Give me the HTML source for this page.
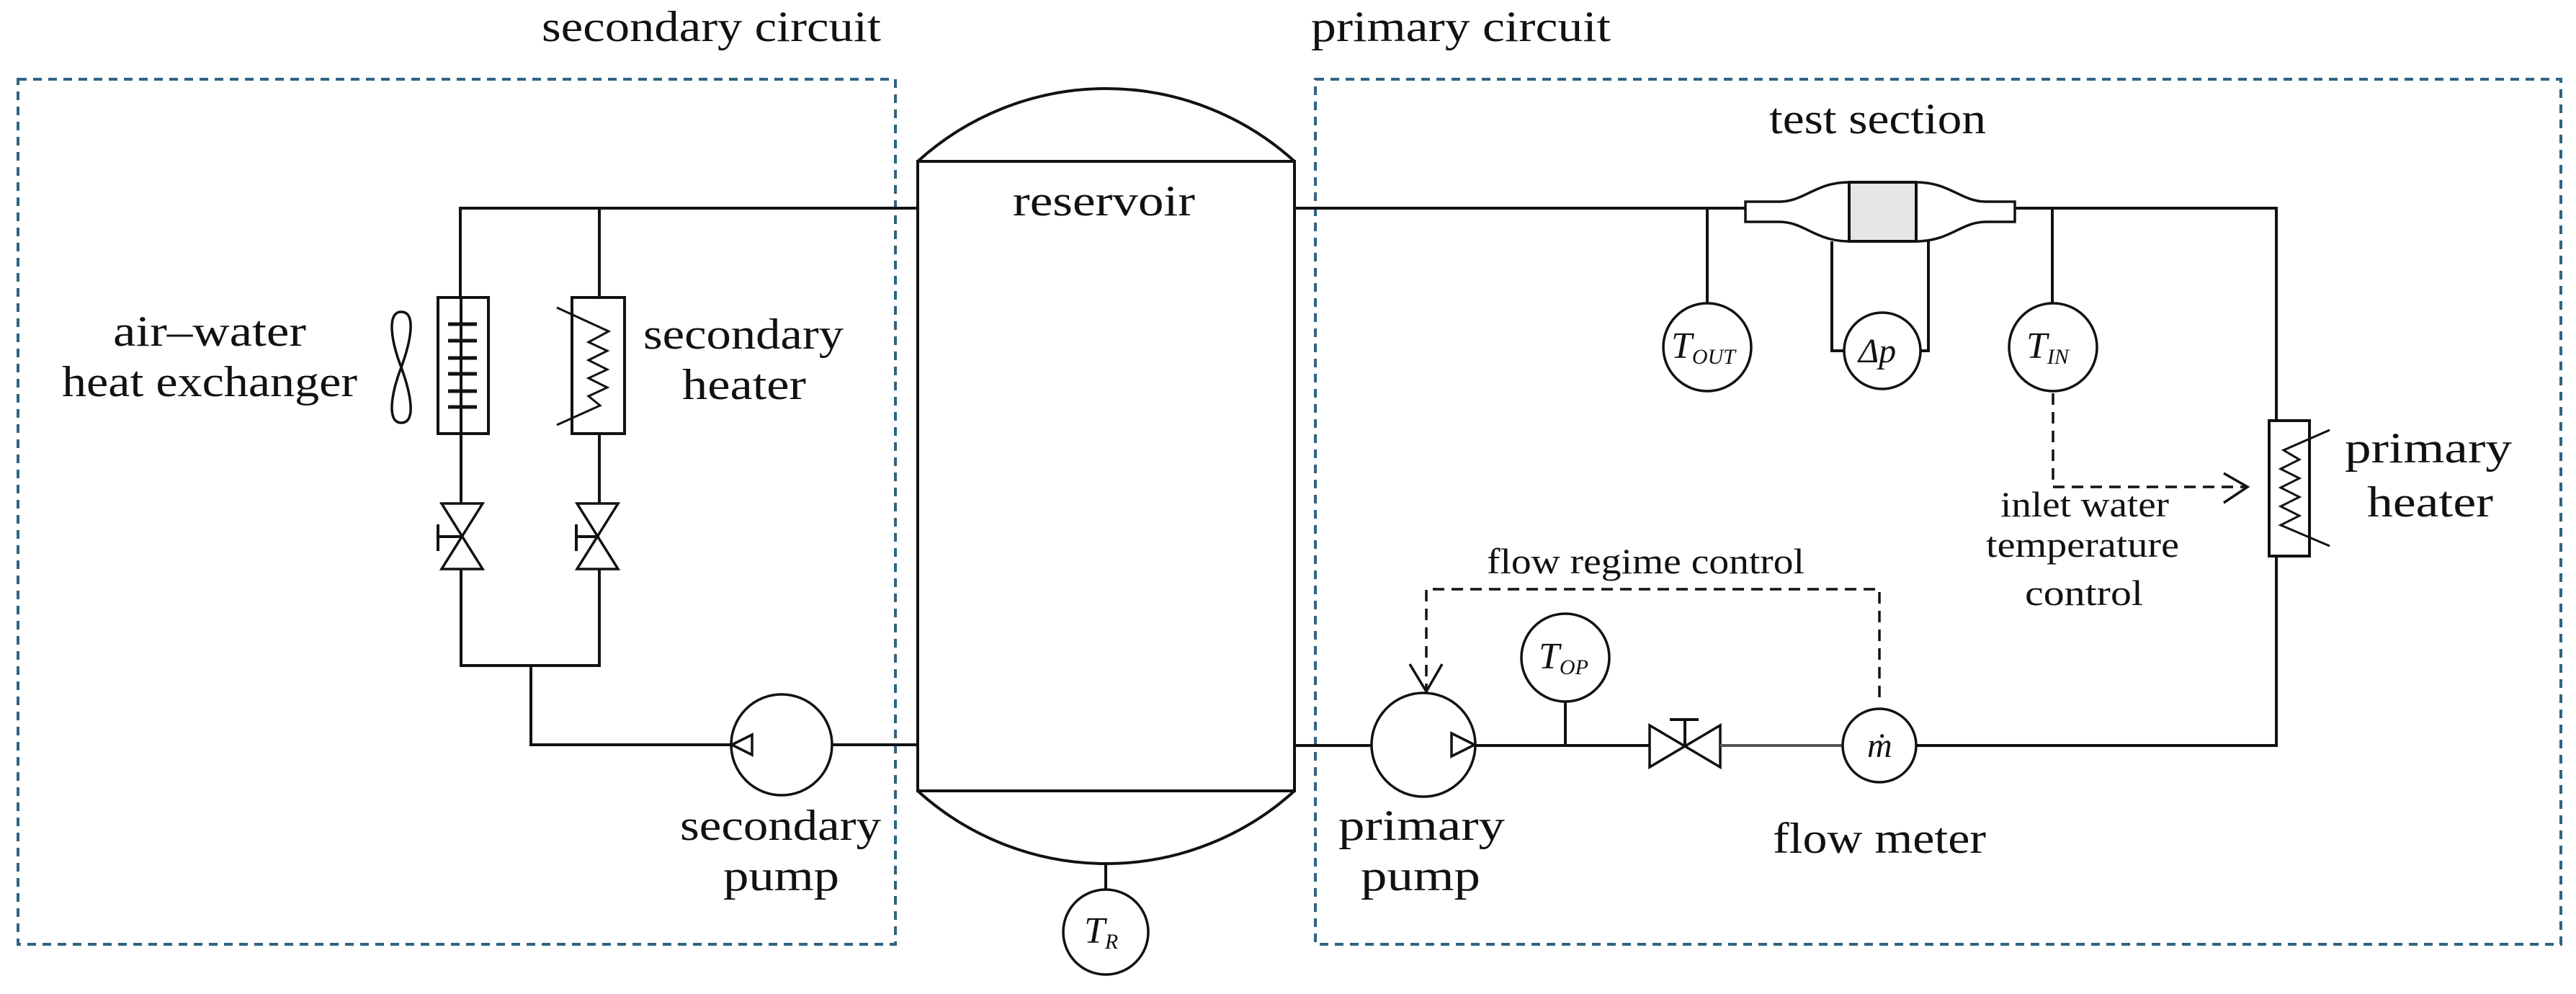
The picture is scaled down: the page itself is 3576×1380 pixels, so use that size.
<!DOCTYPE html>
<html><head><meta charset="utf-8"><style>
html,body{margin:0;padding:0;background:#fff;}
svg{display:block;}
text{font-family:"Liberation Serif",serif;fill:#111;}
</style></head><body>
<svg width="3576" height="1380" viewBox="0 0 3576 1380" xmlns="http://www.w3.org/2000/svg">
<!-- dashed boxes -->
<g fill="none" stroke="#2f6482" stroke-width="4" stroke-dasharray="12 9">
<rect x="25" y="110" width="1218" height="1201"/>
<rect x="1826" y="110" width="1729" height="1201"/>
</g>
<g fill="none" stroke="#111" stroke-width="4" stroke-linejoin="miter">
<!-- reservoir -->
<rect x="1274" y="224" width="523" height="874"/>
<path d="M1274 224 A389 389 0 0 1 1797 224"/>
<path d="M1274 1098 A389 389 0 0 0 1797 1098"/>
<line x1="1535" y1="1201" x2="1535" y2="1235"/>
<circle cx="1535" cy="1294" r="59" stroke-width="3.5"/>
<!-- secondary circuit pipes -->
<polyline points="1274,289 639,289 639,413"/>
<line x1="832" y1="289" x2="832" y2="413"/>
<rect x="608" y="413" width="70" height="189"/>
<rect x="794" y="413" width="73" height="189"/>
<line x1="640" y1="413" x2="640" y2="602"/>
<g stroke-width="5">
<line x1="622" y1="450" x2="662" y2="450"/><line x1="622" y1="473" x2="662" y2="473"/>
<line x1="622" y1="497" x2="662" y2="497"/><line x1="622" y1="519" x2="662" y2="519"/>
<line x1="622" y1="543" x2="662" y2="543"/><line x1="622" y1="565" x2="662" y2="565"/>
</g>
<path d="M557 510 C545 480,535 433,557 433 C580 433,568 480,557 510 C545 540,535 587,557 587 C580 587,568 540,557 510Z" stroke-width="3.5"/>
<!-- secondary heater zigzag -->
<polyline stroke-width="3" points="773,427 845,460 817,475 843,487 817,500 843,513 817,525 843,538 817,550 833,563 773,590"/>
<line x1="640" y1="602" x2="640" y2="699"/>
<line x1="832" y1="602" x2="832" y2="699"/>
<path d="M613 699 L670 699 L613 790 L670 790 Z" stroke-width="3.5"/>
<path d="M801 699 L858 699 L801 790 L858 790 Z" stroke-width="3.5"/>
<line x1="608" y1="745" x2="640" y2="745"/><line x1="608" y1="728" x2="608" y2="765"/>
<line x1="800" y1="745" x2="832" y2="745"/><line x1="800" y1="728" x2="800" y2="765"/>
<polyline points="640,790 640,924 832,924 832,790"/>
<polyline points="737,924 737,1034 1015,1034"/>
<circle cx="1085" cy="1034" r="70" stroke-width="3.5"/>
<path d="M1016 1034 L1044 1020 L1044 1048 Z" stroke-width="3.5"/>
<line x1="1155" y1="1034" x2="1274" y2="1034"/>
<!-- primary circuit top -->
<line x1="1797" y1="289" x2="2423" y2="289"/>
<path d="M2423 280 L2470 280 C2505 280,2520 253,2567 253 L2660 253 C2707 253,2722 280,2757 280 L2797 280 L2797 308 L2757 308 C2722 308,2707 335,2660 335 L2567 335 C2520 335,2505 308,2470 308 L2423 308 Z" stroke-width="3.5"/>
<rect x="2567" y="253" width="93" height="82" fill="#e6e6e6"/>
<polyline points="2797,289 3160,289 3160,584"/>
<line x1="2370" y1="289" x2="2370" y2="421"/>
<circle cx="2370" cy="482" r="61" stroke-width="3.5"/>
<polyline points="2543,335 2543,487 2560,487"/>
<polyline points="2677,335 2677,487 2666,487"/>
<circle cx="2613" cy="487" r="53" stroke-width="3.5"/>
<line x1="2849" y1="289" x2="2849" y2="421"/>
<circle cx="2850" cy="482" r="61" stroke-width="3.5"/>
<!-- primary heater -->
<rect x="3150" y="584" width="56" height="188"/>
<polyline stroke-width="3" points="3234,597 3170,625 3192,638 3166,651 3192,664 3166,677 3192,690 3166,703 3192,716 3166,729 3234,758"/>
<polyline points="3160,772 3160,1035 2660,1035"/>
<!-- bottom primary -->
<line x1="1797" y1="1035" x2="1904" y2="1035"/>
<circle cx="1976" cy="1034" r="72" stroke-width="3.5"/>
<path d="M2047 1034 L2015 1018 L2015 1050 Z" stroke-width="3.5"/>
<line x1="2048" y1="1035" x2="2290" y2="1035"/>
<line x1="2173" y1="975" x2="2173" y2="1035"/>
<circle cx="2173" cy="913" r="61" stroke-width="3.5"/>
<path d="M2290 1007 L2388 1065 L2388 1007 L2290 1065 Z" stroke-width="3.5"/>
<line x1="2339" y1="999" x2="2339" y2="1035"/><line x1="2318" y1="999" x2="2358" y2="999"/>
<line x1="2388" y1="1035" x2="2558" y2="1035" stroke="#555"/>
<circle cx="2609" cy="1035" r="51" stroke-width="3.5"/>
</g>
<!-- dashed control lines -->
<g fill="none" stroke="#111" stroke-width="3.5" stroke-dasharray="16 10">
<polyline points="2609,968 2609,818 1980,818 1980,958"/>
<polyline points="2850,546 2850,676 3118,676"/>
</g>
<g fill="none" stroke="#111" stroke-width="3.5">
<polyline points="1957,922 1980,960 2002,922"/>
<polyline points="3087,657 3120,676 3087,698"/>
</g>
<!-- labels -->
<g font-size="60">
<text x="752" y="57" textLength="471" lengthAdjust="spacingAndGlyphs">secondary circuit</text>
<text x="1820" y="57" textLength="416" lengthAdjust="spacingAndGlyphs">primary circuit</text>
<text x="1406" y="299" textLength="253" lengthAdjust="spacingAndGlyphs">reservoir</text>
<text x="157" y="480" textLength="268" lengthAdjust="spacingAndGlyphs">air–water</text>
<text x="86" y="550" textLength="410" lengthAdjust="spacingAndGlyphs">heat exchanger</text>
<text x="893" y="484" textLength="278" lengthAdjust="spacingAndGlyphs">secondary</text>
<text x="947" y="554" textLength="172" lengthAdjust="spacingAndGlyphs">heater</text>
<text x="944" y="1166" textLength="279" lengthAdjust="spacingAndGlyphs">secondary</text>
<text x="1004" y="1236" textLength="161" lengthAdjust="spacingAndGlyphs">pump</text>
<text x="2456" y="185" textLength="301" lengthAdjust="spacingAndGlyphs">test section</text>
<text x="3255" y="642" textLength="232" lengthAdjust="spacingAndGlyphs">primary</text>
<text x="3286" y="717" textLength="175" lengthAdjust="spacingAndGlyphs">heater</text>
<text x="1858" y="1166" textLength="231" lengthAdjust="spacingAndGlyphs">primary</text>
<text x="1889" y="1236" textLength="166" lengthAdjust="spacingAndGlyphs">pump</text>
<text x="2461" y="1184" textLength="296" lengthAdjust="spacingAndGlyphs">flow meter</text>
</g>
<g font-size="50">
<text x="2777" y="717" textLength="234" lengthAdjust="spacingAndGlyphs">inlet water</text>
<text x="2757" y="773" textLength="268" lengthAdjust="spacingAndGlyphs">temperature</text>
<text x="2811" y="840" textLength="164" lengthAdjust="spacingAndGlyphs">control</text>
<text x="2064" y="796" textLength="441" lengthAdjust="spacingAndGlyphs">flow regime control</text>
</g>
<g font-style="italic">
<text x="2320" y="497" font-size="52">T<tspan font-size="30" dy="8">OUT</tspan></text>
<text x="2813" y="497" font-size="52">T<tspan font-size="30" dy="8">IN</tspan></text>
<text x="2136" y="928" font-size="52">T<tspan font-size="30" dy="8">OP</tspan></text>
<text x="1505" y="1309" font-size="52">T<tspan font-size="30" dy="8">R</tspan></text>
<text x="2580" y="503" font-size="48">Δp</text>
<text x="2592" y="1051" font-size="48">ṁ</text>
</g>
</svg>
</body></html>
